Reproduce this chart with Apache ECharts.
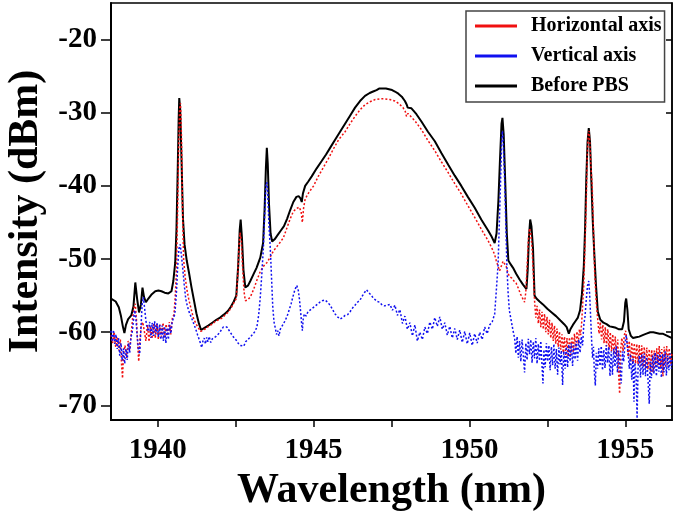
<!DOCTYPE html>
<html>
<head>
<meta charset="utf-8">
<script src="https://cdn.jsdelivr.net/npm/echarts@6/dist/echarts.min.js"></script>
<style>
  html, body { margin: 0; padding: 0; background: #fff; }
  #chart { width: 675px; height: 515px; }
</style>
</head>
<body>
<div id="chart"></div>
<script>
// tick positions / labels
var xTicks = [1940, 1942.5, 1945, 1947.5, 1950, 1952.5, 1955];
var xLabels = [1940, 1945, 1950, 1955];
var yTicks = [-70, -60, -50, -40, -30, -20];
var legendNames = ['Horizontal axis', 'Vertical axis', 'Before PBS'];

// Before PBS (black)
var blackWl = [1938.5,1938.65,1938.75,1938.82,1938.88,1938.93,1938.98,1939.05,1939.15,1939.22,1939.28,1939.34,1939.4,1939.46,1939.51,1939.56,1939.62,1939.7,1939.81,1939.92,1940.02,1940.12,1940.22,1940.34,1940.44,1940.5,1940.56,1940.6,1940.64,1940.67,1940.69,1940.72,1940.76,1940.81,1940.86,1940.93,1941,1941.08,1941.16,1941.24,1941.32,1941.39,1941.5,1941.62,1941.75,1941.88,1942,1942.12,1942.25,1942.35,1942.44,1942.52,1942.58,1942.63,1942.66,1942.7,1942.75,1942.81,1942.9,1942.97,1943.07,1943.17,1943.29,1943.38,1943.43,1943.47,1943.5,1943.53,1943.57,1943.62,1943.67,1943.75,1943.85,1943.95,1944.05,1944.15,1944.25,1944.35,1944.45,1944.52,1944.58,1944.62,1944.66,1944.73,1944.83,1944.94,1945.1,1945.26,1945.4,1945.53,1945.69,1945.85,1946.01,1946.17,1946.33,1946.49,1946.65,1946.8,1946.91,1947.02,1947.1,1947.16,1947.22,1947.32,1947.42,1947.52,1947.61,1947.72,1947.83,1947.93,1947.99,1948.02,1948.05,1948.14,1948.3,1948.46,1948.67,1948.89,1949.1,1949.32,1949.53,1949.74,1949.95,1950.17,1950.38,1950.6,1950.72,1950.81,1950.87,1950.93,1950.98,1951.03,1951.06,1951.1,1951.15,1951.2,1951.25,1951.32,1951.4,1951.5,1951.61,1951.72,1951.83,1951.87,1951.91,1951.95,1951.99,1952.04,1952.09,1952.15,1952.25,1952.36,1952.5,1952.64,1952.78,1952.92,1953.04,1953.12,1953.19,1953.24,1953.32,1953.4,1953.48,1953.55,1953.61,1953.67,1953.71,1953.75,1953.79,1953.83,1953.87,1953.91,1953.96,1954.01,1954.06,1954.12,1954.2,1954.3,1954.4,1954.5,1954.6,1954.7,1954.8,1954.9,1954.96,1955,1955.03,1955.07,1955.11,1955.18,1955.25,1955.35,1955.45,1955.56,1955.68,1955.8,1955.9,1956,1956.1,1956.2,1956.3,1956.4,1956.5];
var blackDbm = [-55.4,-55.8,-56.6,-57.8,-59.2,-60.1,-59,-58.2,-57.7,-56.5,-53.2,-55.5,-57.3,-56.2,-53.9,-55.2,-55.9,-55.4,-54.8,-54.4,-54.3,-54.4,-54.6,-54.7,-54.4,-53,-50.5,-46,-38,-31,-28,-29.5,-36,-44.5,-48,-50.2,-51.8,-53.8,-55.6,-57.4,-58.8,-59.7,-59.4,-59.1,-58.7,-58.3,-58,-57.6,-57.1,-56.5,-55.8,-55,-51,-46,-44.6,-47,-51.5,-53.9,-53.6,-53,-52.1,-51.2,-49.8,-47.8,-43,-37.5,-34.8,-37,-42.5,-46.5,-47.6,-47.3,-46.7,-46.1,-45.5,-44.5,-43.3,-42.2,-41.5,-41.4,-41.7,-42.2,-41,-40,-39.4,-38.7,-37.6,-36.6,-35.7,-34.8,-33.7,-32.6,-31.5,-30.4,-29.3,-28.4,-27.7,-27.3,-27.1,-26.9,-26.7,-26.9,-26.7,-26.7,-26.8,-26.9,-27.1,-27.4,-27.8,-28.4,-28.9,-29.3,-29.1,-29.4,-30.2,-31.2,-32.6,-33.9,-35.5,-37.1,-38.6,-40,-41.5,-43,-44.6,-46.1,-47,-47.8,-46.5,-42,-36.5,-31.5,-30.7,-33,-39.5,-46.5,-50.2,-50.7,-51.2,-52,-52.8,-53.5,-54.1,-51.5,-47,-44.6,-45.5,-48.5,-55,-55.4,-55.8,-56.2,-56.8,-57.3,-57.8,-58.4,-58.9,-59.3,-60.2,-59.6,-59,-58.5,-58,-57,-54.8,-51,-46,-39,-34,-32.1,-34,-39,-45,-49.5,-53.5,-57.2,-58.3,-58.7,-58.9,-59.2,-59.3,-59.4,-59.6,-59.6,-58.5,-56,-55.4,-57,-59.6,-60.5,-60.8,-60.7,-60.6,-60.4,-60.2,-60,-60,-60.1,-60.2,-60.2,-60.4,-60.6,-60.8];

// Horizontal axis (red)
var redWl = [1938.5,1938.55,1938.6,1938.65,1938.7,1938.75,1938.8,1938.84,1938.87,1938.9,1938.95,1939,1939.05,1939.1,1939.15,1939.2,1939.25,1939.28,1939.32,1939.36,1939.39,1939.43,1939.47,1939.52,1939.57,1939.62,1939.67,1939.72,1939.77,1939.82,1939.87,1939.92,1939.97,1940.02,1940.07,1940.12,1940.17,1940.22,1940.27,1940.32,1940.37,1940.42,1940.47,1940.52,1940.56,1940.6,1940.64,1940.67,1940.7,1940.73,1940.76,1940.79,1940.83,1940.88,1940.94,1941,1941.07,1941.14,1941.22,1941.3,1941.38,1941.45,1941.55,1941.65,1941.75,1941.85,1941.95,1942.05,1942.15,1942.25,1942.35,1942.44,1942.52,1942.57,1942.61,1942.64,1942.68,1942.72,1942.77,1942.81,1942.88,1942.97,1943.08,1943.18,1943.29,1943.39,1943.5,1943.6,1943.71,1943.82,1943.93,1944.03,1944.14,1944.25,1944.35,1944.45,1944.54,1944.6,1944.64,1944.68,1944.73,1944.85,1945,1945.15,1945.31,1945.47,1945.63,1945.8,1946.01,1946.17,1946.33,1946.49,1946.65,1946.81,1946.97,1947.13,1947.29,1947.45,1947.61,1947.75,1947.87,1947.94,1947.98,1948.03,1948.09,1948.25,1948.46,1948.67,1948.89,1949.1,1949.32,1949.53,1949.74,1949.95,1950.17,1950.38,1950.6,1950.72,1950.81,1950.86,1950.92,1950.97,1951.02,1951.08,1951.13,1951.18,1951.24,1951.29,1951.36,1951.43,1951.5,1951.57,1951.64,1951.7,1951.77,1951.81,1951.85,1951.89,1951.93,1951.97,1952.01,1952.05,1952.09,1952.13,1952.17,1952.21,1952.25,1952.29,1952.33,1952.37,1952.41,1952.45,1952.49,1952.53,1952.57,1952.61,1952.65,1952.69,1952.73,1952.77,1952.81,1952.85,1952.89,1952.93,1952.97,1953.01,1953.05,1953.09,1953.13,1953.17,1953.21,1953.25,1953.29,1953.33,1953.37,1953.41,1953.45,1953.49,1953.53,1953.57,1953.6,1953.63,1953.67,1953.71,1953.75,1953.78,1953.81,1953.84,1953.87,1953.9,1953.94,1953.98,1954.02,1954.07,1954.12,1954.16,1954.2,1954.24,1954.28,1954.32,1954.36,1954.4,1954.44,1954.48,1954.52,1954.56,1954.6,1954.64,1954.68,1954.72,1954.76,1954.79,1954.82,1954.85,1954.89,1954.93,1954.97,1955.01,1955.05,1955.09,1955.13,1955.17,1955.21,1955.25,1955.29,1955.33,1955.37,1955.41,1955.45,1955.49,1955.53,1955.57,1955.61,1955.65,1955.69,1955.73,1955.77,1955.81,1955.85,1955.89,1955.93,1955.97,1956.01,1956.05,1956.09,1956.13,1956.17,1956.21,1956.25,1956.29,1956.33,1956.37,1956.41,1956.45,1956.5];
var redDbm = [-60.4,-61.5,-60.0,-62.0,-60.7,-62.5,-61.0,-64.5,-66.3,-63,-61.8,-63.5,-61.2,-62.4,-60.2,-57.8,-56.4,-56.1,-58.5,-62,-64,-61,-59,-58.6,-59.9,-61.2,-59.0,-61.3,-59.2,-60.9,-58.9,-60.8,-58.8,-61.0,-59.0,-60.6,-58.7,-60.7,-58.9,-60.5,-58.6,-60.3,-58,-57.6,-55.2,-51.5,-43,-35,-29.5,-28.7,-33,-42,-50,-52.5,-54.3,-55.6,-56.8,-58,-58.8,-59.4,-59.9,-59.7,-59.5,-59.1,-58.9,-58.5,-58.3,-58.1,-57.7,-57.3,-56.7,-56,-55.4,-52,-48,-46.4,-47.5,-51,-54.5,-55.7,-55.6,-55.2,-54.1,-52.9,-51.7,-51,-50.5,-49.8,-48.9,-48.3,-47.7,-47.1,-45.8,-44.5,-43.5,-43.1,-42.9,-43.5,-45,-43,-41.8,-40.9,-40,-38.7,-37.5,-36.3,-35,-33.7,-32.6,-31.5,-30.5,-29.6,-28.9,-28.5,-28.2,-28.1,-28.1,-28.2,-28.4,-28.8,-29.3,-29.8,-30.5,-30.1,-30.2,-31.1,-32.3,-33.8,-35.2,-36.7,-38.2,-39.7,-41.1,-42.7,-44.3,-45.9,-47.5,-48.5,-49.4,-50.2,-51,-51.6,-51,-50.3,-50.2,-51,-52,-52.4,-52.6,-53,-53.3,-54,-54.8,-55.3,-55.9,-54.5,-51,-47.5,-45.8,-46.5,-48.5,-52,-55.7,-58.0,-56.4,-58.8,-56.9,-59.3,-57.2,-59.6,-57.5,-60.0,-57.9,-60.3,-58.3,-60.8,-58.7,-61.2,-59.1,-61.6,-59.5,-62.0,-59.9,-62.4,-60.3,-62.8,-60.6,-63.2,-60.8,-63.4,-60.7,-63.1,-60.6,-62.8,-60.2,-62.3,-59.9,-61.6,-59.6,-60.4,-58.8,-56.5,-53.5,-48,-42,-36,-33,-32.5,-34.5,-37.5,-40,-46,-52,-56,-58.4,-60.2,-58.6,-61.0,-59.0,-61.5,-59.3,-61.9,-59.6,-62.3,-60.0,-62.6,-60.3,-63.0,-60.6,-63.3,-61.0,-66.0,-68.4,-62.5,-60.8,-62.6,-60.4,-59.8,-61.0,-63.4,-61.2,-64.0,-61.4,-64.2,-61.5,-64.3,-61.6,-64.4,-61.7,-64.6,-61.8,-64.7,-62.0,-64.9,-62.1,-65.1,-62.3,-65.4,-62.4,-65.5,-62.5,-64.8,-62.2,-64.5,-61.9,-64.9,-62.3,-66.0,-62.0,-64.6,-61.9,-64.7,-62.2,-64.4,-62.8];

// Vertical axis (blue)
var blueWl = [1938.5,1938.54,1938.58,1938.62,1938.66,1938.7,1938.74,1938.78,1938.82,1938.86,1938.9,1938.94,1938.98,1939.02,1939.06,1939.1,1939.14,1939.18,1939.22,1939.26,1939.3,1939.34,1939.38,1939.42,1939.46,1939.5,1939.54,1939.58,1939.62,1939.66,1939.7,1939.74,1939.78,1939.82,1939.86,1939.9,1939.94,1939.98,1940.02,1940.06,1940.1,1940.14,1940.18,1940.22,1940.26,1940.3,1940.34,1940.38,1940.42,1940.46,1940.5,1940.55,1940.6,1940.64,1940.68,1940.72,1940.76,1940.8,1940.85,1940.9,1940.96,1941.02,1941.09,1941.16,1941.22,1941.28,1941.33,1941.37,1941.41,1941.45,1941.49,1941.53,1941.57,1941.61,1941.65,1941.7,1941.75,1941.8,1941.86,1941.92,1941.98,1942.04,1942.1,1942.16,1942.22,1942.28,1942.34,1942.4,1942.46,1942.52,1942.58,1942.64,1942.7,1942.76,1942.82,1942.88,1942.94,1943,1943.06,1943.12,1943.18,1943.24,1943.29,1943.34,1943.39,1943.43,1943.47,1943.5,1943.53,1943.57,1943.61,1943.65,1943.69,1943.73,1943.77,1943.81,1943.85,1943.89,1943.93,1943.98,1944.04,1944.1,1944.16,1944.22,1944.28,1944.34,1944.4,1944.46,1944.51,1944.55,1944.59,1944.62,1944.64,1944.67,1944.71,1944.76,1944.82,1944.88,1944.94,1945,1945.06,1945.12,1945.2,1945.28,1945.37,1945.45,1945.53,1945.61,1945.69,1945.77,1945.85,1945.93,1946.01,1946.09,1946.17,1946.25,1946.33,1946.41,1946.49,1946.57,1946.63,1946.7,1946.77,1946.84,1946.91,1946.97,1947.04,1947.12,1947.2,1947.28,1947.36,1947.45,1947.53,1947.61,1947.69,1947.77,1947.85,1947.93,1948.01,1948.09,1948.17,1948.25,1948.33,1948.41,1948.49,1948.57,1948.65,1948.73,1948.81,1948.89,1948.97,1949.05,1949.13,1949.21,1949.29,1949.37,1949.45,1949.53,1949.61,1949.69,1949.77,1949.85,1949.93,1950.01,1950.09,1950.17,1950.25,1950.33,1950.41,1950.49,1950.57,1950.65,1950.73,1950.81,1950.86,1950.92,1950.96,1951,1951.03,1951.06,1951.09,1951.13,1951.17,1951.2,1951.24,1951.28,1951.34,1951.4,1951.45,1951.49,1951.53,1951.57,1951.61,1951.65,1951.69,1951.73,1951.77,1951.81,1951.85,1951.89,1951.93,1951.97,1952.01,1952.05,1952.09,1952.13,1952.17,1952.21,1952.25,1952.29,1952.33,1952.36,1952.39,1952.43,1952.47,1952.51,1952.55,1952.59,1952.63,1952.67,1952.71,1952.75,1952.79,1952.83,1952.87,1952.91,1952.95,1952.99,1953.03,1953.07,1953.11,1953.15,1953.19,1953.23,1953.27,1953.31,1953.35,1953.39,1953.43,1953.47,1953.51,1953.55,1953.59,1953.63,1953.67,1953.71,1953.75,1953.79,1953.83,1953.86,1953.89,1953.92,1953.95,1953.98,1954.01,1954.04,1954.07,1954.11,1954.15,1954.19,1954.23,1954.27,1954.31,1954.35,1954.39,1954.43,1954.47,1954.51,1954.55,1954.59,1954.63,1954.67,1954.71,1954.75,1954.79,1954.83,1954.87,1954.91,1954.95,1954.99,1955.03,1955.06,1955.09,1955.13,1955.17,1955.21,1955.25,1955.28,1955.31,1955.35,1955.38,1955.41,1955.45,1955.49,1955.53,1955.57,1955.61,1955.65,1955.69,1955.73,1955.77,1955.8,1955.84,1955.88,1955.92,1955.96,1956,1956.04,1956.08,1956.12,1956.16,1956.2,1956.24,1956.28,1956.32,1956.36,1956.4,1956.44,1956.48,1956.5];
var blueDbm = [-59.8,-61.3,-59.7,-61.6,-60.3,-62.3,-60.8,-63.2,-61.5,-63.9,-62.2,-64.3,-62.3,-63.8,-61.5,-62.8,-60.7,-60,-58.4,-57,-58.2,-60.5,-62.3,-63,-59.5,-56.2,-55.2,-56.8,-58.4,-59.5,-59.9,-58.6,-60.8,-58.7,-60.5,-58.5,-60.3,-58.8,-60.7,-58.9,-61.0,-59.1,-61.2,-59.2,-61.5,-59.4,-61.0,-59.0,-60.2,-58.6,-58.5,-57.5,-54.5,-51,-48.6,-48,-49.5,-51.2,-53.5,-55.5,-56.6,-57.4,-58.1,-58.9,-59.6,-60.4,-61,-61.5,-62.1,-61.2,-60.8,-61.6,-60.7,-61.3,-60.6,-61.4,-60.9,-61,-60.6,-60.5,-60.1,-59.7,-59.3,-59.1,-59.3,-59.7,-60.1,-60.5,-60.8,-61.1,-61.5,-61.8,-61.6,-61.9,-61.3,-61.4,-60.8,-60.7,-60.2,-59.9,-59.3,-57.6,-55.2,-52,-48.4,-44,-40,-39.5,-41,-45.5,-48.4,-52.5,-56.5,-58.6,-59.4,-60.3,-59.8,-60.5,-59.6,-59.5,-58.8,-58.3,-57.7,-56.9,-56.1,-55.1,-54.2,-53.6,-54.3,-55.6,-57.5,-59,-59.8,-58,-57.5,-57.8,-57.2,-57.4,-56.8,-56.9,-56.4,-56.3,-55.9,-55.7,-55.6,-55.9,-56.3,-56.9,-57.5,-57.9,-58.2,-58,-57.7,-57.6,-57.2,-56.7,-56.3,-55.9,-55.6,-55,-54.6,-54.2,-54.6,-54.9,-55.3,-55.4,-55.8,-55.9,-56.3,-56.4,-56.3,-56.2,-57.0,-56.3,-57.7,-56.9,-58.8,-57.8,-59.6,-58.7,-60.5,-59.0,-61.2,-60.0,-61.0,-59.3,-60.2,-58.6,-59.6,-58.0,-59.2,-57.9,-59.6,-58.7,-60.4,-59.2,-60.8,-59.5,-61.0,-59.7,-61.4,-59.9,-61.6,-60.1,-61.8,-60.2,-61.5,-60.0,-61.0,-59.3,-60.2,-59.0,-58.6,-57.5,-54.5,-50.7,-45,-39.3,-34.5,-32.5,-34.5,-39.3,-45.5,-50.7,-54.5,-57,-58.4,-59.8,-60.8,-62.9,-60.6,-63.5,-61.2,-64.0,-61.0,-63.2,-65.5,-61.5,-63.8,-60.9,-63.0,-61.0,-64.2,-61.3,-63.6,-60.8,-64.3,-61.6,-63.9,-61.2,-64.6,-67.0,-62.4,-64.8,-61.5,-64.0,-61.8,-65.2,-62.0,-64.5,-61.6,-65.0,-62.3,-65.8,-62.1,-64.4,-62.5,-67.2,-62.6,-65.0,-62.0,-64.8,-61.7,-64.0,-61.5,-64.6,-61.8,-63.7,-61.2,-63.9,-61.0,-62.8,-60.6,-61.8,-59.0,-57.8,-55.5,-53.6,-53.0,-55.0,-58.0,-61.0,-63.5,-62.0,-65.5,-67.3,-62.8,-65.0,-62.2,-64.6,-61.9,-65.2,-62.4,-64.9,-61.8,-64.2,-62.0,-66.0,-62.6,-65.8,-62.3,-64.7,-61.9,-65.5,-62.5,-64.8,-67.0,-62.6,-64.0,-61.6,-60.4,-60.2,-62.6,-65.0,-63.0,-66.5,-63.6,-69.5,-64.2,-66.0,-71.8,-65.0,-63.2,-66.2,-63.0,-65.8,-62.9,-66.0,-63.4,-66.4,-69.8,-64.0,-66.3,-63.2,-65.7,-62.8,-66.0,-63.1,-65.4,-62.7,-66.2,-63.0,-65.5,-62.6,-65.9,-63.2,-65.2,-62.9,-65.0,-63.8];

function pairs(xs, ys) {
  var out = [];
  for (var i = 0; i < xs.length; i++) {
    out.push([xs[i], ys[i]]);
  }
  return out;
}

var serif = 'Liberation Serif';
var chart = echarts.init(document.getElementById('chart'));
chart.setOption({
  animation: false,
  backgroundColor: '#fff',
  grid: {
    left: 111, right: 3, top: 3, bottom: 95,
    outerBoundsMode: 'none',
    show: true, borderColor: '#000', borderWidth: 1.5
  },
  legend: {
    data: legendNames,
    orient: 'vertical',
    left: 466, top: 11,
    padding: [5, 3, 6, 9],
    itemGap: 10,
    icon: 'rect',
    itemWidth: 42,
    itemHeight: 3,
    backgroundColor: '#fff',
    borderColor: '#444',
    borderWidth: 1.5,
    textStyle: {
      fontFamily: serif, fontWeight: 'bold', fontSize: 20,
      color: '#000', lineHeight: 20, padding: [0, 0, 0, 9]
    }
  },
  xAxis: {
    type: 'value',
    min: 1938.5, max: 1956.5,
    name: 'Wavelength (nm)',
    nameLocation: 'middle',
    nameGap: 45,
    nameTextStyle: { fontFamily: serif, fontWeight: 'bold', fontSize: 42, color: '#000' },
    axisLine: { lineStyle: { color: '#000', width: 2 } },
    axisTick: { customValues: xTicks, length: 7, lineStyle: { color: '#000', width: 1.5 } },
    axisLabel: {
      customValues: xLabels, margin: 16,
      formatter: function (v) { return String(v); },
      fontFamily: serif, fontWeight: 'bold', fontSize: 29, color: '#000'
    },
    splitLine: { show: false }
  },
  yAxis: [{
    type: 'value',
    min: -72, max: -15,
    name: 'Intensity (dBm)',
    nameLocation: 'middle',
    nameRotate: 90,
    nameGap: 64,
    nameTextStyle: { fontFamily: serif, fontWeight: 'bold', fontSize: 42, color: '#000' },
    axisLine: { show: true, lineStyle: { color: '#000', width: 2 } },
    axisTick: { customValues: yTicks, length: 10, lineStyle: { color: '#000', width: 1.5 } },
    axisLabel: {
      customValues: yTicks, margin: 14,
      formatter: function (v) { return String(v); },
      fontFamily: serif, fontWeight: 'bold', fontSize: 29, color: '#000'
    },
    splitLine: { show: false }
  }, {
    type: 'value',
    position: 'right',
    min: -72, max: -15,
    axisLine: { show: true, lineStyle: { color: '#000', width: 1.5 } },
    axisTick: { customValues: yTicks, inside: true, length: 6, lineStyle: { color: '#000', width: 1.5 } },
    axisLabel: { show: false },
    splitLine: { show: false }
  }],
  series: [
    {
      name: 'Before PBS',
      type: 'line',
      showSymbol: false,
      data: pairs(blackWl, blackDbm),
      itemStyle: { color: '#000' },
      lineStyle: { color: '#000', width: 2 }
    },
    {
      name: 'Horizontal axis',
      type: 'line',
      showSymbol: false,
      data: pairs(redWl, redDbm),
      itemStyle: { color: '#f01010' },
      lineStyle: { color: '#f01010', width: 1.5, type: [2, 2] }
    },
    {
      name: 'Vertical axis',
      type: 'line',
      showSymbol: false,
      data: pairs(blueWl, blueDbm),
      itemStyle: { color: '#1010f0' },
      lineStyle: { color: '#1010f0', width: 1.5, type: [2, 2] }
    }
  ]
});
</script>
</body>
</html>
